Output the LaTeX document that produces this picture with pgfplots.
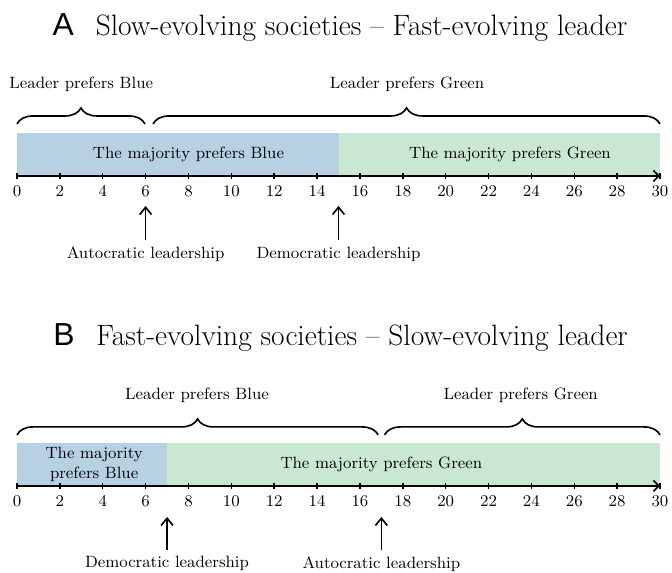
\documentclass[border=0pt]{standalone}
\usepackage{pgfplots}
\pgfplotsset{compat=1.18}
\usepackage{fontspec}
\newfontfamily\heros{Liberation Sans}
\usetikzlibrary{decorations.pathreplacing,arrows.meta}
\definecolor{bblue}{HTML}{B7D1E3}
\definecolor{bgreen}{HTML}{C9E7D3}
\pgfplotsset{timeline/.style={
  x=11.79pt, y=0.55pt, xmin=0, xmax=30, ymin=0, ymax=43,
  axis x line=bottom, axis y line=none,
  axis line style={-{Straight Barb[length=3pt,width=6pt]}, line width=0.9pt},
  xtick={0,2,...,30}, xtick align=center, major tick length=3.5pt,
  tick style={black, line width=0.8pt},
  ticklabel style={font=\small},
  clip=false, axis on top=true, enlargelimits=false,
}}
\tikzset{br/.style={decorate, decoration={brace, amplitude=8.8pt}, line width=0.9pt},
  ar/.style={-{Straight Barb[length=4pt,width=6.5pt]}, line width=0.9pt, black}}
\newcommand{\ttl}[2]{\fontsize{16.2}{19}\selectfont{\heros\fontsize{17.5}{19}\selectfont #1}\hspace{12pt}#2}
\begin{document}
\begin{tikzpicture}
\begin{axis}[timeline, at={(0pt,0pt)}]
  \addplot[fill=bblue, draw=none] coordinates {(0,43) (15,43)} \closedcycle;
  \addplot[fill=bgreen, draw=none] coordinates {(15,43) (30,43)} \closedcycle;
  \node[font=\small] at (axis cs:8,21.5) {The majority prefers Blue};
  \node[font=\small] at (axis cs:23,21.5) {The majority prefers Green};
  \draw[br] (axis cs:0,52) -- (axis cs:5.97,52);
  \draw[br] (axis cs:6.35,52) -- (axis cs:30,52);
  \node[font=\small] at (axis cs:3,92) {Leader prefers Blue};
  \node[font=\small] at (axis cs:18.2,92) {Leader prefers Green};
  \addplot[ar] coordinates {(6,-64) (6,-30)};
  \addplot[ar] coordinates {(15,-64) (15,-30)};
  \node[font=\small] at (axis cs:6,-78) {Autocratic leadership};
  \node[font=\small] at (axis cs:15,-78) {Democratic leadership};
  \node at (axis cs:15.07,148) {\ttl{A}{Slow-evolving societies -- Fast-evolving leader}};
  \coordinate (TL) at (axis cs:-0.793,176);
  \coordinate (BR) at (axis cs:30.56,-397);
\end{axis}
\begin{axis}[timeline, at={(0pt,-170.5pt)}]
  \addplot[fill=bblue, draw=none] coordinates {(0,43) (7,43)} \closedcycle;
  \addplot[fill=bgreen, draw=none] coordinates {(7,43) (30,43)} \closedcycle;
  \node[font=\small, align=center] at (axis cs:3.6,21.5) {The majority\\prefers Blue};
  \node[font=\small] at (axis cs:17,21.5) {The majority prefers Green};
  \draw[br] (axis cs:0,51) -- (axis cs:16.85,51);
  \draw[br] (axis cs:17.15,51) -- (axis cs:30,51);
  \node[font=\small] at (axis cs:8.4,91) {Leader prefers Blue};
  \node[font=\small] at (axis cs:23.5,91) {Leader prefers Green};
  \addplot[ar] coordinates {(7,-64) (7,-31)};
  \addplot[ar] coordinates {(17,-64) (17,-31)};
  \node[font=\small] at (axis cs:7,-78) {Democratic leadership};
  \node[font=\small] at (axis cs:17,-78) {Autocratic leadership};
  \node at (axis cs:15.1,148) {\ttl{B}{Fast-evolving societies -- Slow-evolving leader}};
\end{axis}
\pgfresetboundingbox
\path (TL) rectangle (BR);
\end{tikzpicture}
\end{document}
